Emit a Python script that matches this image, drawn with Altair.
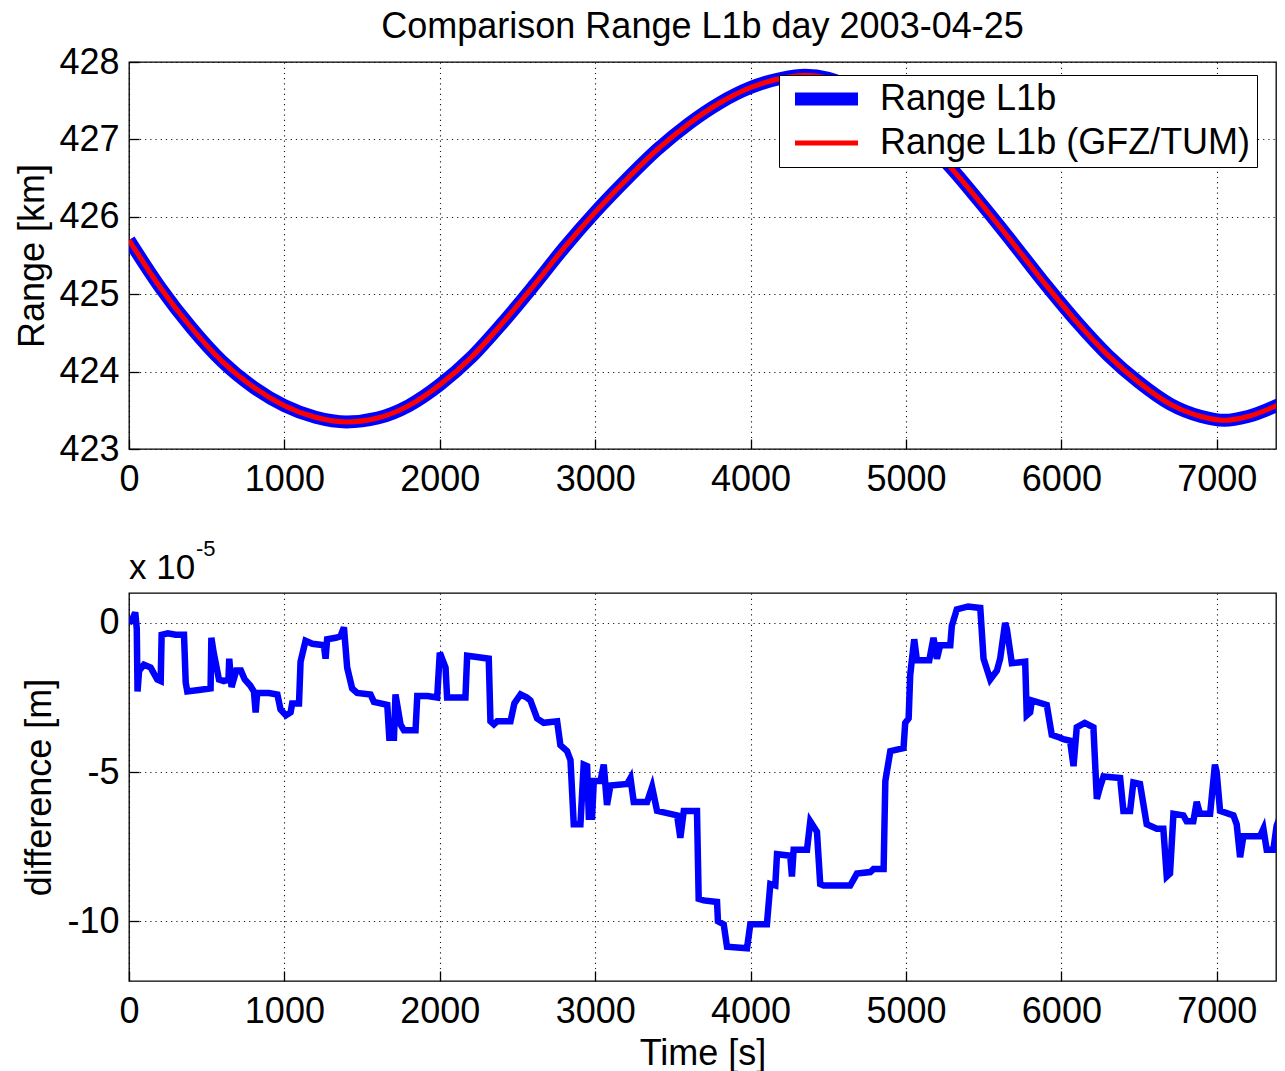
import altair as alt
import pandas as pd

FONT = "Liberation Sans"
TITLE = "Comparison Range L1b day 2003-04-25"
SERIES = ["Range L1b", "Range L1b (GFZ/TUM)"]
SERIES_COLORS = ["#0000ff", "#ff0000"]
SERIES_WIDTHS = [13, 5]
X_TICKS = [0, 1000, 2000, 3000, 4000, 5000, 6000, 7000]
RANGE_TICKS = [423, 424, 425, 426, 427, 428]
DIFF_TICKS = [-10, -5, 0]
EXP_BASE = "x 10"
EXP_POWER = "-5"

# top panel: range [km]
range_t = [0, 200, 400, 600, 800, 1000, 1200, 1400, 1600, 1800, 2000, 2200, 2400,
           2600, 2800, 3000, 3200, 3400, 3600, 3800, 4000, 4200, 4350, 4500, 4700,
           4900, 5100, 5300, 5500, 5700, 5900, 6100, 6300, 6500, 6700, 6900, 7050,
           7200, 7428]
range_km = [425.70, 425.09, 424.57, 424.13, 423.80, 423.56, 423.41, 423.35, 423.40,
            423.56, 423.83, 424.18, 424.62, 425.10, 425.60, 426.06, 426.48, 426.87,
            427.20, 427.47, 427.67, 427.79, 427.83, 427.79, 427.62, 427.37, 427.03,
            426.61, 426.13, 425.63, 425.12, 424.64, 424.21, 423.86, 423.58, 423.42,
            423.37, 423.42, 423.60]

# bottom panel: difference [m] in units of 1e-5
diff_t = [0, 20, 40, 50, 55, 65, 96, 139, 182, 204, 210, 250, 300, 354, 365, 375, 450,
          525, 530, 545, 579, 610, 640, 645, 660, 690, 720, 745, 780, 804, 815, 825,
          900, 955, 975, 1010, 1040, 1050, 1094, 1104, 1136, 1180, 1254, 1265, 1275,
          1330, 1361, 1383, 1404, 1436, 1468, 1554, 1576, 1662, 1675, 1705, 1715, 1747,
          1769, 1844, 1855, 1920, 1983, 2000, 2037, 2047, 2165, 2176, 2250, 2315, 2326,
          2348, 2369, 2455, 2480, 2520, 2560, 2583, 2626, 2669, 2755, 2776, 2819, 2841,
          2862, 2905, 2926, 2948, 2959, 2980, 2991, 3034, 3055, 3076, 3098, 3205, 3227,
          3248, 3334, 3366, 3398, 3527, 3548, 3570, 3655, 3666, 3698, 3784, 3790, 3827,
          3848, 3977, 3998, 4105, 4127, 4159, 4170, 4255, 4266, 4277, 4363, 4384, 4427,
          4448, 4470, 4641, 4684, 4770, 4791, 4856, 4867, 4899, 4942, 4984, 4995, 5017,
          5027, 5053, 5070, 5150, 5177, 5199, 5220, 5285, 5295, 5327, 5400, 5478, 5499,
          5542, 5585, 5606, 5638, 5649, 5681, 5767, 5777, 5799, 5810, 5906, 5938, 5992,
          6013, 6056, 6078, 6099, 6150, 6206, 6228, 6249, 6271, 6378, 6399, 6442, 6463,
          6506, 6549, 6571, 6614, 6656, 6678, 6699, 6721, 6785, 6806, 6849, 6871, 6892,
          6957, 6988, 6999, 7021, 7107, 7128, 7150, 7171, 7278, 7300, 7321, 7364, 7385,
          7407, 7428]
diff_val = [0.0, 0.1, 0.35, -0.2, -2.3, -1.6, -1.4, -1.5, -1.9, -1.95, -0.4, -0.35, -0.4,
            -0.4, -2.0, -2.3, -2.25, -2.2, -0.5, -1.0, -1.9, -1.95, -1.9, -1.2, -2.15,
            -1.6, -1.6, -1.9, -2.1, -2.3, -3.0, -2.35, -2.35, -2.4, -2.9, -3.1, -3.0,
            -2.7, -2.7, -1.3, -0.6, -0.7, -0.75, -1.2, -0.55, -0.5, -0.45, -0.15, -1.5,
            -2.2, -2.35, -2.4, -2.65, -2.75, -3.85, -3.85, -2.4, -3.4, -3.6, -3.6, -2.45,
            -2.45, -2.5, -1.0, -1.5, -2.5, -2.5, -1.1, -1.15, -1.2, -3.3, -3.4, -3.3,
            -3.3, -2.7, -2.4, -2.5, -2.6, -3.2, -3.35, -3.3, -4.1, -4.3, -4.6, -6.75,
            -6.75, -4.75, -4.8, -6.5, -6.5, -5.3, -5.3, -4.75, -6.1, -5.45, -5.4, -5.2,
            -6.0, -6.0, -5.5, -6.3, -6.45, -7.2, -6.3, -6.3, -9.25, -9.3, -9.35, -10.0,
            -10.1, -10.85, -10.9, -10.1, -10.1, -8.75, -8.8, -7.75, -7.8, -8.5, -7.6,
            -7.6, -6.65, -7.0, -8.75, -8.8, -8.8, -8.4, -8.35, -8.25, -8.25, -5.3, -4.3,
            -4.25, -4.2, -3.35, -3.2, -1.75, -0.55, -1.25, -1.25, -0.5, -1.2, -0.75,
            -0.75, -0.1, 0.45, 0.55, 0.5, -1.2, -1.9, -1.6, -1.2, 0.0, -0.2, -1.35, -1.3,
            -3.1, -3.0, -2.6, -2.75, -3.75, -3.85, -3.9, -3.95, -4.8, -3.5, -3.35, -3.5,
            -5.9, -5.5, -5.15, -5.2, -6.3, -6.3, -5.35, -5.4, -6.75, -6.8, -6.9, -6.9,
            -8.5, -8.4, -6.4, -6.45, -6.65, -6.65, -6.0, -6.4, -6.4, -4.75, -5.0, -6.3,
            -6.45, -6.75, -7.85, -7.15, -7.15, -6.9, -7.6, -7.6, -6.8, -6.5, -6.4]

n = len(range_t)
df_top = pd.DataFrame({
    "t": range_t + range_t,
    "value": range_km + range_km,
    "series": [SERIES[0]] * n + [SERIES[1]] * n,
})
df_diff = pd.DataFrame({"t": diff_t, "value": diff_val})
df_exp = pd.DataFrame({"base": [EXP_BASE], "power": [EXP_POWER]})

X_DOMAIN = [0, 7381]
PLOT_W = 1147
FS = 36

grid_kw = dict(grid=True, gridDash=[1.2, 4], gridColor="#000000", gridOpacity=0.9,
               gridWidth=1.1)
tick_kw = dict(tickSize=10, offset=-10, tickColor="#000000", tickWidth=1.3,
               domain=False, labelFontSize=FS, labelFont=FONT, labelColor="#000000",
               labelFlush=False, labelExpr="'' + datum.value")


def x_axis(title):
    kw = dict(values=X_TICKS, labelPadding=13.5, labelOverlap=False,
              **grid_kw, **tick_kw)
    if title:
        return alt.Axis(title=title, titleFontSize=FS, titleFont=FONT,
                        titleFontWeight="normal", titleColor="#000000",
                        titlePadding=7, **kw)
    return alt.Axis(title=None, **kw)


def y_axis(values, title, tpad):
    return alt.Axis(values=values, title=title, titleFontSize=FS,
                    titleFont=FONT, titleFontWeight="normal", titleColor="#000000",
                    titlePadding=tpad, labelPadding=10, **grid_kw, **tick_kw)


legend_kw = dict(orient="none", legendX=650, legendY=13, title=None,
                 labelFontSize=FS, labelFont=FONT, labelColor="#000000",
                 labelLimit=1000, symbolType="M-3.15,0L3.15,0", symbolSize=400,
                 padding=6, rowPadding=-2, symbolOffset=23.5, labelOffset=35.5,
                 strokeColor="#000000", fillColor="#ffffff")

top = alt.Chart(df_top).mark_line(interpolate="monotone", clip=True).encode(
    x=alt.X("t:Q", scale=alt.Scale(domain=X_DOMAIN, nice=False, zero=False),
            axis=x_axis(None)),
    y=alt.Y("value:Q", scale=alt.Scale(domain=[423, 428], nice=False, zero=False),
            axis=y_axis(RANGE_TICKS, "Range [km]", 7)),
    color=alt.Color("series:N", scale=alt.Scale(domain=SERIES, range=SERIES_COLORS),
                    legend=alt.Legend(**legend_kw)),
    strokeWidth=alt.StrokeWidth("series:N",
                                scale=alt.Scale(domain=SERIES, range=SERIES_WIDTHS),
                                legend=alt.Legend(**legend_kw)),
).properties(
    width=PLOT_W, height=387,
    title=alt.TitleParams(TITLE, fontSize=FS, font=FONT, fontWeight="normal",
                          color="#000000", anchor="middle", frame="group", offset=-2),
)

diff_line = alt.Chart(df_diff).mark_line(color="#0000ff", strokeWidth=6.5, clip=True).encode(
    x=alt.X("t:Q", scale=alt.Scale(domain=X_DOMAIN, nice=False, zero=False),
            axis=x_axis("Time [s]")),
    y=alt.Y("value:Q", scale=alt.Scale(domain=[-12, 1], nice=False, zero=False),
            axis=y_axis(DIFF_TICKS, "difference [m]", 8)),
)
exp_base = alt.Chart(df_exp).mark_text(align="left", baseline="alphabetic", fontSize=35,
                                       font=FONT, color="#000000").encode(
    text="base:N", x=alt.value(0), y=alt.value(-14))
exp_power = alt.Chart(df_exp).mark_text(align="left", baseline="alphabetic", fontSize=22,
                                        font=FONT, color="#000000").encode(
    text="power:N", x=alt.value(67), y=alt.value(-37))

bottom = alt.layer(diff_line, exp_base, exp_power).properties(width=PLOT_W, height=388)

chart = alt.vconcat(top, bottom, spacing=38).properties(
    padding={"left": 6, "top": 0, "right": 0, "bottom": 0},
    background="#ffffff",
).configure_view(stroke="#000000", strokeWidth=1.3)

chart.save("out.html", embed_options={"renderer": "svg", "actions": False})
